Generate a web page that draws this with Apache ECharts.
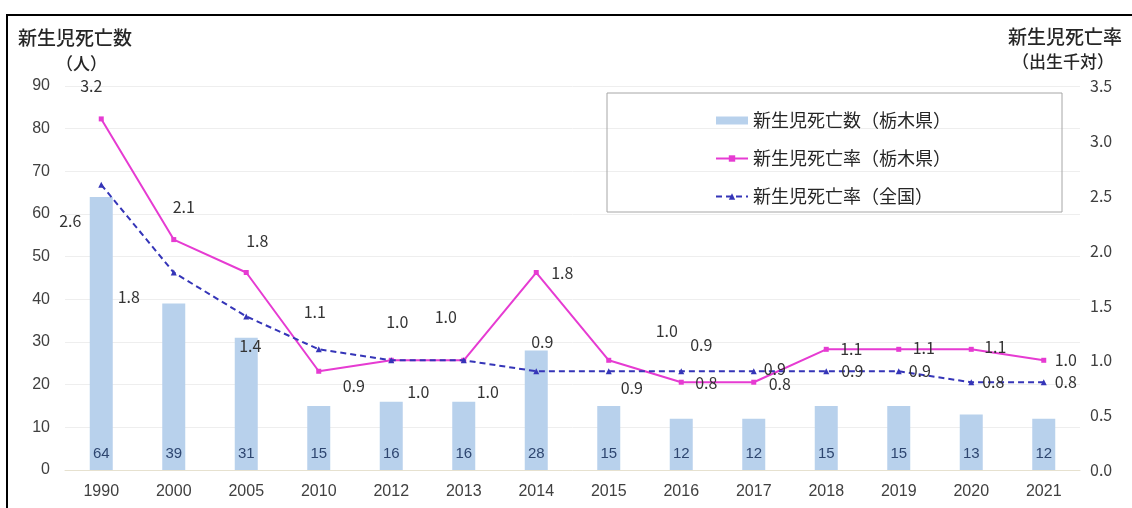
<!DOCTYPE html>
<html><head><meta charset="utf-8">
<script src="https://cdn.jsdelivr.net/npm/echarts@6/dist/echarts.min.js"></script>
<style>html,body{margin:0;padding:0;background:#fff}#c{width:1132px;height:508px}</style>
</head><body><div id="c"></div>
<script>
// ---- data ----
const years = ['1990','2000','2005','2010','2012','2013','2014','2015','2016','2017','2018','2019','2020','2021'];
const deathsTochigi = [64,39,31,15,16,16,28,15,12,12,15,15,13,12];
const rateTochigi = [3.2,2.1,1.8,0.9,1.0,1.0,1.8,1.0,0.8,0.8,1.1,1.1,1.1,1.0];
const rateJapan = [2.6,1.8,1.4,1.1,1.0,1.0,0.9,0.9,0.9,0.9,0.9,0.9,0.8,0.8];
const seriesNames = ['新生児死亡数（栃木県）','新生児死亡率（栃木県）','新生児死亡率（全国）'];

// ---- label placement (style only) ----
const pinkOffsets = [[-10,-33],[10,-33],[11,-32],[35,15],[27,32],[-18,-43],[26,0],[58,-29],[25,1],[26,2],[25,0],[25,-1],[24,-2],[22,0]];
const blueOffsets = [[-31,36],[-45,24],[4,30],[-4,-37],[6,-38],[24,32],[6,-29],[23,17],[20,-26],[21,-2],[26,0],[21,0],[22,0],[22,0]];

const FONT = '"Noto Sans CJK JP", "Noto Sans", sans-serif';
const NUMFONT = '"Liberation Sans", Arial, sans-serif';
const PINK = '#e63bd2';
const BLUE = '#3535b8';
const BAR = '#b8d1ec';

function withLabels(values, offsets) {
  return values.map((v, i) => ({
    value: v,
    label: { show: true, position: 'inside', offset: offsets[i] }
  }));
}

const chart = echarts.init(document.getElementById('c'), null, {renderer: 'canvas'});
chart.setOption({
  animation: false,
  backgroundColor: '#fff',
  grid: { left: 65, right: 52, top: 86, bottom: 38, containLabel: false },
  legend: {
    orient: 'vertical', left: 710, top: 105, itemGap: 17,
    itemWidth: 32, itemHeight: 8,
    textStyle: { fontFamily: FONT, fontSize: 18, color: '#262626', lineHeight: 21 },
    data: [
      { name: seriesNames[0], icon: 'rect' },
      { name: seriesNames[1] },
      { name: seriesNames[2] }
    ]
  },
  graphic: [
    { type: 'rect', shape: { x: 7, y: 15, width: 1200, height: 600 }, style: { fill: 'none', stroke: '#000', lineWidth: 2 }, silent: true },
    { type: 'rect', shape: { x: 607, y: 93, width: 455, height: 119 }, style: { fill: 'none', stroke: '#a6a6a6', lineWidth: 1 }, silent: true, z: 10 },
    { type: 'text', left: 18, top: 28, style: { text: '新生児死亡数', font: '500 19px ' + FONT, fill: '#262626' } },
    { type: 'text', left: 56, top: 55, style: { text: '（人）', font: '500 17px ' + FONT, fill: '#262626' } },
    { type: 'text', left: 1008, top: 27, style: { text: '新生児死亡率', font: '500 19px ' + FONT, fill: '#262626' } },
    { type: 'text', left: 1012, top: 53, style: { text: '（出生千対）', font: '500 17px ' + FONT, fill: '#262626' } }
  ],
  xAxis: {
    type: 'category', data: years,
    axisLine: { show: true, lineStyle: { color: '#e6e1cf' } },
    axisTick: { show: false },
    axisLabel: { fontFamily: NUMFONT, fontSize: 16, color: '#404040', margin: 14 }
  },
  yAxis: [
    {
      type: 'value', min: 0, max: 90, interval: 10,
      axisLine: { show: false }, axisTick: { show: false },
      axisLabel: { fontFamily: NUMFONT, fontSize: 16, color: '#404040', margin: 15 },
      splitLine: { lineStyle: { color: '#eeeeee', width: 1 } }
    },
    {
      type: 'value', min: 0, max: 3.5, interval: 0.5,
      axisLine: { show: false }, axisTick: { show: false },
      axisLabel: { fontFamily: FONT, fontSize: 16, color: '#404040', margin: 10, formatter: v => v.toFixed(1) },
      splitLine: { show: false }
    }
  ],
  series: [
    {
      name: seriesNames[0], type: 'bar', yAxisIndex: 0, data: deathsTochigi,
      barWidth: 23, itemStyle: { color: BAR },
      label: { show: true, position: 'insideBottom', distance: 9, fontFamily: NUMFONT, fontSize: 15, color: '#2e4670' },
      z: 1
    },
    {
      name: seriesNames[1], type: 'line', yAxisIndex: 1,
      data: withLabels(rateTochigi, pinkOffsets),
      symbol: 'rect', symbolSize: 5, showSymbol: true,
      lineStyle: { color: PINK, width: 2 }, itemStyle: { color: PINK },
      label: { fontFamily: FONT, fontSize: 16, color: '#333', formatter: p => p.value.toFixed(1) },
      z: 3
    },
    {
      name: seriesNames[2], type: 'line', yAxisIndex: 1,
      data: withLabels(rateJapan, blueOffsets),
      symbol: 'triangle', symbolSize: 6, showSymbol: true,
      lineStyle: { color: BLUE, width: 2, type: [6, 4] }, itemStyle: { color: BLUE },
      label: { fontFamily: FONT, fontSize: 16, color: '#333', formatter: p => p.value.toFixed(1) },
      z: 4
    }
  ]
});
</script>
</body></html>
